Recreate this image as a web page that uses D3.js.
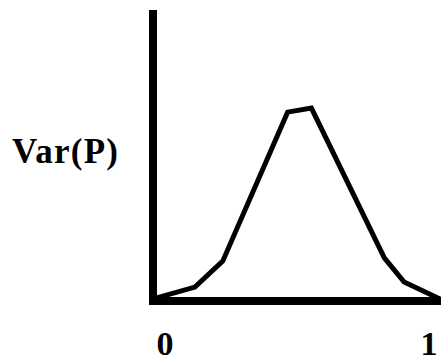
<!DOCTYPE html>
<html lang="en">
<head>
  <meta charset="UTF-8">
  <title>Var(P)</title>
  <style>
    html, body {
      margin: 0;
      padding: 0;
      overflow: hidden;
      background: #fff;
    }
    svg {
      display: block;
    }
    text {
      font-family: 'Liberation Serif', 'Times New Roman', serif;
      font-weight: bold;
    }
  </style>
</head>
<body>
<svg width="441" height="364"></svg>
<script src="https://d3js.org/d3.v7.min.js"></script>
<script>
// values
const pX = [0.01, 0.146, 0.243, 0.469, 0.552, 0.806, 0.875, 1.0];
const pY = [0.01, 0.048, 0.137, 0.649, 0.663, 0.148, 0.065, 0.007];
const tickLabels = ["0", "1"];
const yLabel = "Var(P)";

const svg = d3.select("svg");

const x = d3.scaleLinear().domain([0, 1]).range([153, 440]);
const y = d3.scaleLinear().domain([0, 1]).range([301, 10]);

// axes (plain thick lines, no ticks)
svg.append("line")
  .attr("x1", x(0)).attr("x2", x(0))
  .attr("y1", y(1)).attr("y2", y(0) + 4)
  .attr("stroke", "#000").attr("stroke-width", 8);

svg.append("line")
  .attr("x1", x(0) - 4).attr("x2", 441)
  .attr("y1", y(0)).attr("y2", y(0))
  .attr("stroke", "#000").attr("stroke-width", 8);

// curve
const pts = pX.map((v, i) => [v, pY[i]]);
svg.append("path")
  .datum(pts)
  .attr("fill", "none")
  .attr("stroke", "#000")
  .attr("stroke-width", 5)
  .attr("stroke-linejoin", "miter")
  .attr("d", d3.line().x(d => x(d[0])).y(d => y(d[1])));

// labels
svg.selectAll("text.tick")
  .data(tickLabels)
  .enter().append("text")
  .attr("class", "tick")
  .attr("x", (d, i) => i === 0 ? x(0) + 12 : x(1) - 11)
  .attr("y", 355)
  .attr("text-anchor", "middle")
  .attr("font-size", 34)
  .text(d => d);

svg.append("text")
  .attr("x", 12)
  .attr("y", 163)
  .attr("font-size", 35)
  .attr("textLength", 106)
  .attr("lengthAdjust", "spacing")
  .text(yLabel);
</script>
</body>
</html>
